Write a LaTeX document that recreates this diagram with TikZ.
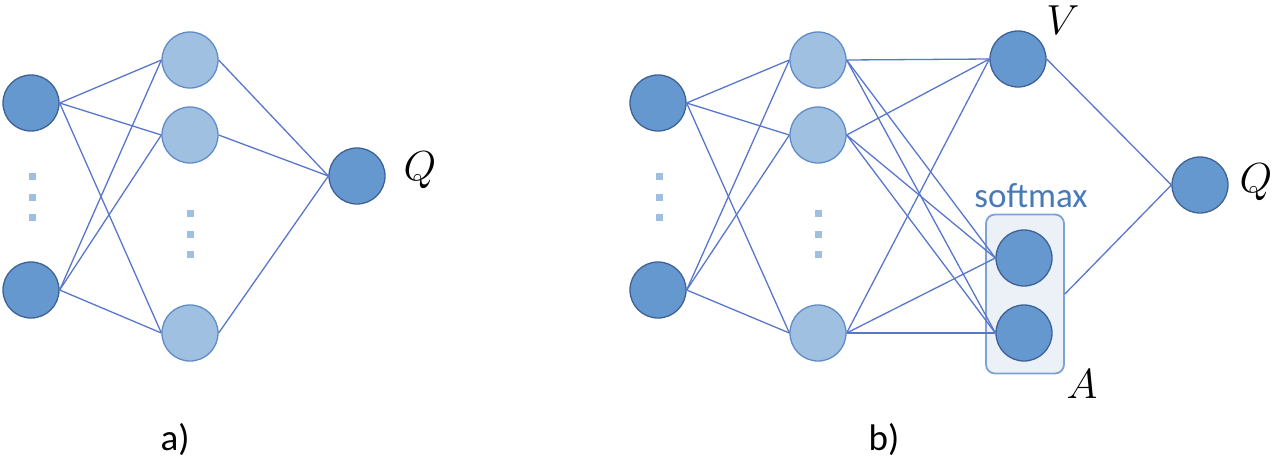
\RequirePackage{fix-cm}
\documentclass[tikz,border=0pt]{standalone}
\usepackage{fontspec}
\setmainfont{Carlito}
\usepackage{tikz}
\usetikzlibrary{shapes,positioning,fit,calc}
\definecolor{darkblue}{RGB}{101,152,207}
\definecolor{darkedge}{RGB}{62,98,150}
\definecolor{lightblue}{RGB}{160,192,226}
\definecolor{lightedge}{RGB}{98,140,200}
\definecolor{linkblue}{RGB}{88,118,204}
\definecolor{boxfill}{RGB}{236,241,248}
\definecolor{boxedge}{RGB}{125,163,212}
\definecolor{dotblue}{RGB}{158,191,226}
\definecolor{softblue}{RGB}{72,122,184}

\begin{document}
\begin{tikzpicture}[x=1pt,y=-1pt]
    % Define styles
    \tikzstyle{outunit} = [circle, draw=darkedge, fill=darkblue, line width=1.3pt, minimum size=56pt, inner sep=0pt]
    \tikzstyle{hidunit} = [circle, draw=lightedge, fill=lightblue, line width=1.3pt, minimum size=56pt, inner sep=0pt]
    \tikzstyle{link} = [linkblue, line width=1.3pt]
    \tikzstyle{dotsq} = [rectangle, fill=dotblue, minimum size=7pt, inner sep=0pt]
    \tikzstyle{mathlabel} = [font=\fontsize{42}{42}\selectfont]
    \tikzstyle{caption} = [font=\fontsize{37}{37}\selectfont]
    \useasboundingbox (0,0) rectangle (1280,467);

    % a) input layer
    \node[outunit] (ina1) at (31,103) {};
    \node[outunit] (ina2) at (31,290) {};
    \node[dotsq] (dota1) at (32,176) {};
    \node[dotsq] (dota2) at (32,197) {};
    \node[dotsq] (dota3) at (32,217) {};

    % a) hidden layer
    \node[hidunit] (hida1) at (190,60) {};
    \node[hidunit] (hida2) at (190,135) {};
    \node[hidunit] (hida3) at (190,333) {};
    \node[dotsq] (dota4) at (190,213) {};
    \node[dotsq] (dota5) at (190,234) {};
    \node[dotsq] (dota6) at (190,254) {};

    % a) output
    \node[outunit] (qa) at (357,176) {};
    \node[mathlabel] (qalabel) at (420,170) {$Q$};

    % b) input layer
    \node[outunit] (inb1) at (658,103) {};
    \node[outunit] (inb2) at (658,290) {};
    \node[dotsq] (dotb1) at (659,176) {};
    \node[dotsq] (dotb2) at (659,197) {};
    \node[dotsq] (dotb3) at (659,217) {};

    % b) hidden layer
    \node[hidunit] (hidb1) at (818,60) {};
    \node[hidunit] (hidb2) at (818,135) {};
    \node[hidunit] (hidb3) at (818,333) {};
    \node[dotsq] (dotb4) at (818,213) {};
    \node[dotsq] (dotb5) at (818,234) {};
    \node[dotsq] (dotb6) at (818,254) {};

    % b) value and advantage streams
    \node[rectangle, rounded corners=9pt, draw=boxedge, fill=boxfill, line width=1.8pt, minimum width=78pt, minimum height=159pt] (softbox) at (1025,294) {};
    \node[outunit] (vb) at (1018,59) {};
    \node[outunit] (soft1) at (1024,258) {};
    \node[outunit] (soft2) at (1024,333) {};
    \node[text=softblue, font=\fontsize{35}{35}\selectfont] (softlabel) at (1031,196) {softmax};
    \node[mathlabel] (vlabel) at (1063,20) {$V$};
    \node[mathlabel] (alabel) at (1082,384) {$A$};

    % b) output
    \node[outunit] (qb) at (1200,185) {};
    \node[mathlabel] (qblabel) at (1256,182) {$Q$};

    % Arrows a)
    \draw[link] (ina1.east) -- (hida1.west);
    \draw[link] (ina1.east) -- (hida2.west);
    \draw[link] (ina1.east) -- (hida3.west);
    \draw[link] (ina2.east) -- (hida1.west);
    \draw[link] (ina2.east) -- (hida2.west);
    \draw[link] (ina2.east) -- (hida3.west);
    \draw[link] (hida1.east) -- (qa.west);
    \draw[link] (hida2.east) -- (qa.west);
    \draw[link] (hida3.east) -- (qa.west);

    % Arrows b)
    \draw[link] (inb1.east) -- (hidb1.west);
    \draw[link] (inb1.east) -- (hidb2.west);
    \draw[link] (inb1.east) -- (hidb3.west);
    \draw[link] (inb2.east) -- (hidb1.west);
    \draw[link] (inb2.east) -- (hidb2.west);
    \draw[link] (inb2.east) -- (hidb3.west);
    \draw[link] (hidb1.east) -- (vb.west);
    \draw[link] (hidb1.east) -- (soft1.west);
    \draw[link] (hidb1.east) -- (soft2.west);
    \draw[link] (hidb2.east) -- (vb.west);
    \draw[link] (hidb2.east) -- (soft1.west);
    \draw[link] (hidb2.east) -- (soft2.west);
    \draw[link] (hidb3.east) -- (vb.west);
    \draw[link] (hidb3.east) -- (soft1.west);
    \draw[link] (hidb3.east) -- (soft2.west);
    \draw[link] (vb.east) -- (qb.west);
    \draw[link] (softbox.east) -- (qb.west);

    % Labels
    \node[caption] (capa) at (175,440) {a)};
    \node[caption] (capb) at (884,440) {b)};

\end{tikzpicture}
\end{document}
